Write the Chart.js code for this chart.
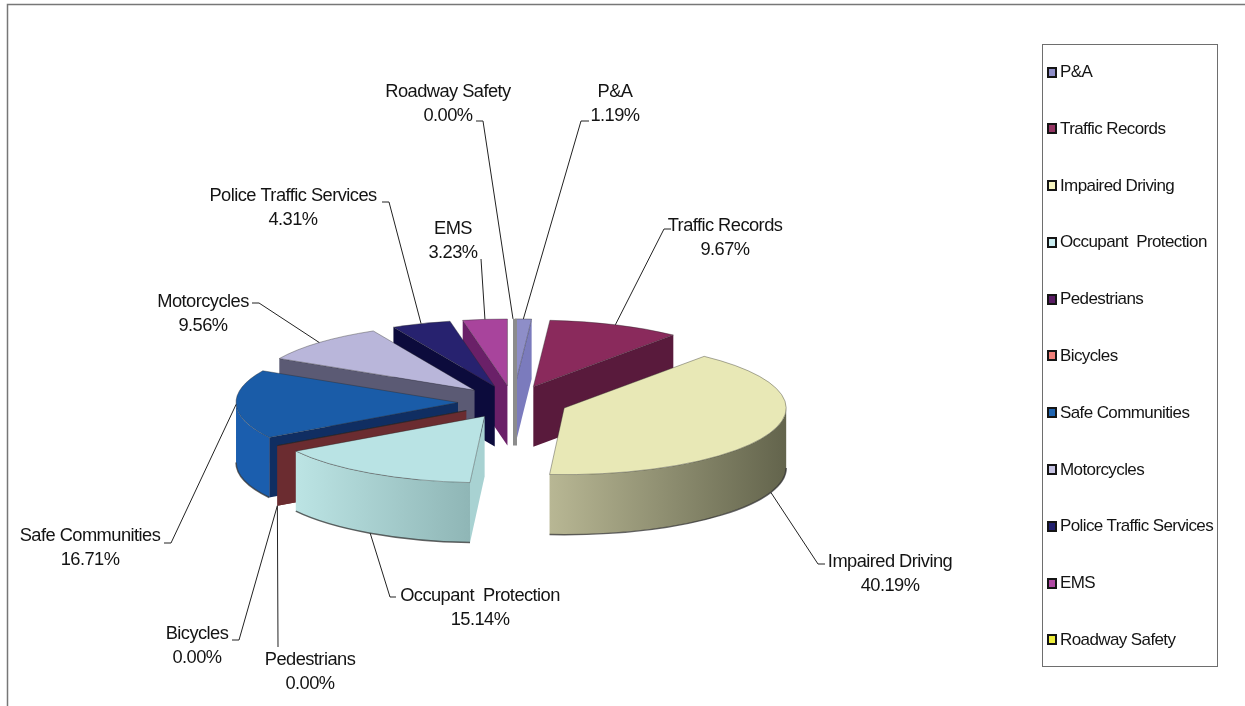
<!DOCTYPE html>
<html>
<head>
<meta charset="utf-8">
<title>Program funding share</title>
<script src="https://cdn.jsdelivr.net/npm/chart.js@4/dist/chart.umd.min.js"></script>
<style>
    html, body { margin: 0; background: #fff; overflow: hidden; }
    #wrap { position: relative; width: 1245px; height: 706px; }
    #legend {
        position: absolute; left: 1042px; top: 44px; width: 176px; height: 623px;
        box-sizing: border-box; border: 1.5px solid #6e6e6e; padding: 17px 0 16px 4px;
        display: flex; flex-direction: column; justify-content: space-between;
        font: 17px "Liberation Sans", Arial, sans-serif; letter-spacing: -0.6px; color: #141414;
    }
    .item { display: flex; align-items: center; height: 20px; white-space: pre; }
    .swatch { width: 6px; height: 7px; border: 2px solid #151515; margin-right: 3px; }
</style>
</head>
<body>
<div id="wrap">
    <canvas id="chart" width="1245" height="706"></canvas>
    <div id="legend"></div>
</div>
<script>
const categories = ["P&A", "Traffic Records", "Impaired Driving", "Occupant  Protection", "Pedestrians",
    "Bicycles", "Safe Communities", "Motorcycles", "Police Traffic Services", "EMS", "Roadway Safety"];
const shares = [1.19, 9.67, 40.19, 15.14, 0, 0, 16.71, 9.56, 4.31, 3.23, 0];

const legendColors = ["#8f8ec8", "#953564", "#f6f4c0", "#c9edf0", "#5a1c64", "#f0807a",
    "#1f64b0", "#c6c3e2", "#21206e", "#b04aa4", "#eeee3c"];
const topColors = ["#8e8ec8", "#8a2a5c", "#e8e8b6", "#b9e3e4", "#5a1c64", "#f0807a",
    "#1a5ca8", "#b9b6da", "#27226f", "#a8449c", "#eeee3c"];
const wallColors = ["#7b7bbd", "#591a3c", "#8b8b6c", "#a8d2d2", "#6b2c30", "#6b2c30",
    "#102e62", "#5b5a74", "#0c0b3c", "#6a2068", "#8c8c8c"];
const rimColors = [null, null, ["#b8b794", "#63644c"], ["#bce4e4", "#8fb6b6"], null, null,
    ["#1b5eae", "#1b5eae"], null, null, null, null];

// where each label sits and the bend in its leader, the tip comes from the slice itself
const labelSpots = [
    { x: 615, y: 92, bend: [[589, 121], [581, 121]] },
    { x: 725, y: 226, bend: [[671, 229], [664, 229]] },
    { x: 890, y: 562, bend: [[825, 564], [818, 564]] },
    { x: 480, y: 596, bend: [[396, 597], [390, 597]] },
    { x: 310, y: 660, bend: [[278, 647]] },
    { x: 197, y: 634, bend: [[232, 640], [239, 640]] },
    { x: 90, y: 536, bend: [[164, 543], [171, 543]] },
    { x: 203, y: 302, bend: [[252, 303], [259, 303]] },
    { x: 293, y: 196, bend: [[382, 202], [389, 202]] },
    { x: 453, y: 229, bend: [[481, 259]] },
    { x: 448, y: 92, bend: [[476, 121], [483, 121]] }
];

const tilt = 0.3;
const wallHeight = 60;
const explode = 55;

function sliceGeom(arc) {
    const s = arc.startAngle, e = arc.endAngle, mid = (s + e) / 2;
    const R = arc.outerRadius;
    const ax = arc.x + arc.options.offset * Math.cos(mid);
    const ay = arc.y + arc.options.offset * Math.sin(mid) * tilt;
    return { s, e, mid, R, ax, ay };
}

function rimPoint(g, a) {
    return { x: g.ax + g.R * Math.cos(a), y: g.ay + g.R * tilt * Math.sin(a) };
}

// slice pointing straight at the back, seen edge on
function isEdgeOn(g) {
    return Math.abs(rimPoint(g, g.s).x - g.ax) < 1 && g.e - g.s < 0.001;
}

function drawRadialWall(ctx, g, a, color) {
    const p = rimPoint(g, a);
    ctx.fillStyle = color;
    ctx.beginPath();
    ctx.moveTo(g.ax, g.ay);
    ctx.lineTo(p.x, p.y);
    ctx.lineTo(p.x, p.y + wallHeight);
    ctx.lineTo(g.ax, g.ay + wallHeight);
    ctx.closePath();
    ctx.fill();
}

function drawSlice(ctx, arc, i) {
    const g = sliceGeom(arc);
    if (isEdgeOn(g)) return;

    if (Math.cos(g.s) < 0) drawRadialWall(ctx, g, g.s, wallColors[i]);
    if (Math.cos(g.e) > 0) drawRadialWall(ctx, g, g.e, wallColors[i]);

    const from = Math.max(g.s, 0), to = Math.min(g.e, Math.PI);
    if (to > from && rimColors[i]) {
        const p1 = rimPoint(g, from), p2 = rimPoint(g, to);
        const grad = ctx.createLinearGradient(Math.min(p1.x, p2.x), 0, Math.max(p1.x, p2.x), 0);
        grad.addColorStop(0, rimColors[i][0]);
        grad.addColorStop(1, rimColors[i][1]);
        ctx.fillStyle = grad;
        ctx.beginPath();
        ctx.ellipse(g.ax, g.ay, g.R, g.R * tilt, 0, from, to);
        ctx.ellipse(g.ax, g.ay + wallHeight, g.R, g.R * tilt, 0, to, from, true);
        ctx.closePath();
        ctx.fill();

        ctx.strokeStyle = "rgba(50,50,50,0.75)";
        ctx.lineWidth = 1.5;
        ctx.beginPath();
        ctx.ellipse(g.ax, g.ay + wallHeight, g.R, g.R * tilt, 0, from, to);
        ctx.stroke();
    }

    ctx.fillStyle = topColors[i];
    ctx.strokeStyle = "rgba(40,40,40,0.55)";
    ctx.lineWidth = 0.7;
    ctx.beginPath();
    ctx.moveTo(g.ax, g.ay);
    ctx.ellipse(g.ax, g.ay, g.R, g.R * tilt, 0, g.s, g.e);
    ctx.closePath();
    ctx.fill();
    ctx.stroke();
}

function drawEdgeOnStrip(ctx, arc, i) {
    const g = sliceGeom(arc);
    if (!isEdgeOn(g)) return;
    // Excel still leaves a thin strip of it
    ctx.fillStyle = wallColors[i];
    ctx.fillRect(g.ax, g.ay - g.R * tilt, 4, g.R * tilt + wallHeight);
}

function drawLabel(ctx, arc, i) {
    const g = sliceGeom(arc);
    const spot = labelSpots[i];
    const tip = rimPoint(g, g.mid);
    // front slices get their leader at the bottom of the wall
    if (Math.sin(g.mid) > 0.1) tip.y += wallHeight;

    ctx.strokeStyle = "#222";
    ctx.lineWidth = 1;
    ctx.beginPath();
    spot.bend.forEach((pt, n) => n === 0 ? ctx.moveTo(pt[0], pt[1]) : ctx.lineTo(pt[0], pt[1]));
    ctx.lineTo(tip.x, tip.y);
    ctx.stroke();

    ctx.fillStyle = "#141414";
    ctx.font = '18.3px "Liberation Sans", Arial, sans-serif';
    ctx.letterSpacing = "-0.55px";
    ctx.textAlign = "center";
    ctx.textBaseline = "middle";
    ctx.fillText(categories[i], spot.x, spot.y);
    ctx.fillText(shares[i].toFixed(2) + "%", spot.x, spot.y + 24);
}

const fakePie3d = {
    id: "fakePie3d",
    beforeDraw(chart) {
        const ctx = chart.ctx;
        ctx.save();
        ctx.strokeStyle = "#777";
        ctx.lineWidth = 1.5;
        ctx.beginPath();
        ctx.moveTo(1245, 4.5);
        ctx.lineTo(7.5, 4.5);
        ctx.lineTo(7.5, 706);
        ctx.stroke();
        ctx.restore();
    },
    beforeDatasetsDraw(chart) {
        const ctx = chart.ctx;
        const arcs = chart.getDatasetMeta(0).data;
        const order = arcs.map((arc, i) => i)
            .sort((a, b) => sliceGeom(arcs[a]).ay - sliceGeom(arcs[b]).ay);
        ctx.save();
        order.forEach(i => drawSlice(ctx, arcs[i], i));
        arcs.forEach((arc, i) => drawEdgeOnStrip(ctx, arc, i));
        arcs.forEach((arc, i) => drawLabel(ctx, arc, i));
        ctx.restore();
        return false;
    }
};

new Chart(document.getElementById("chart"), {
    type: "pie",
    data: {
        labels: categories,
        datasets: [{
            data: shares,
            backgroundColor: topColors,
            borderWidth: 0,
            offset: explode
        }]
    },
    options: {
        responsive: false,
        animation: false,
        radius: 222,
        layout: { padding: { left: 0, right: 219, top: 98, bottom: 0 } },
        plugins: {
            legend: { display: false },
            tooltip: { enabled: false }
        }
    },
    plugins: [fakePie3d]
});

const legendBox = document.getElementById("legend");
categories.forEach((name, i) => {
    const item = document.createElement("div");
    item.className = "item";
    const swatch = document.createElement("span");
    swatch.className = "swatch";
    swatch.style.background = legendColors[i];
    item.appendChild(swatch);
    item.appendChild(document.createTextNode(name));
    legendBox.appendChild(item);
});
</script>
</body>
</html>
